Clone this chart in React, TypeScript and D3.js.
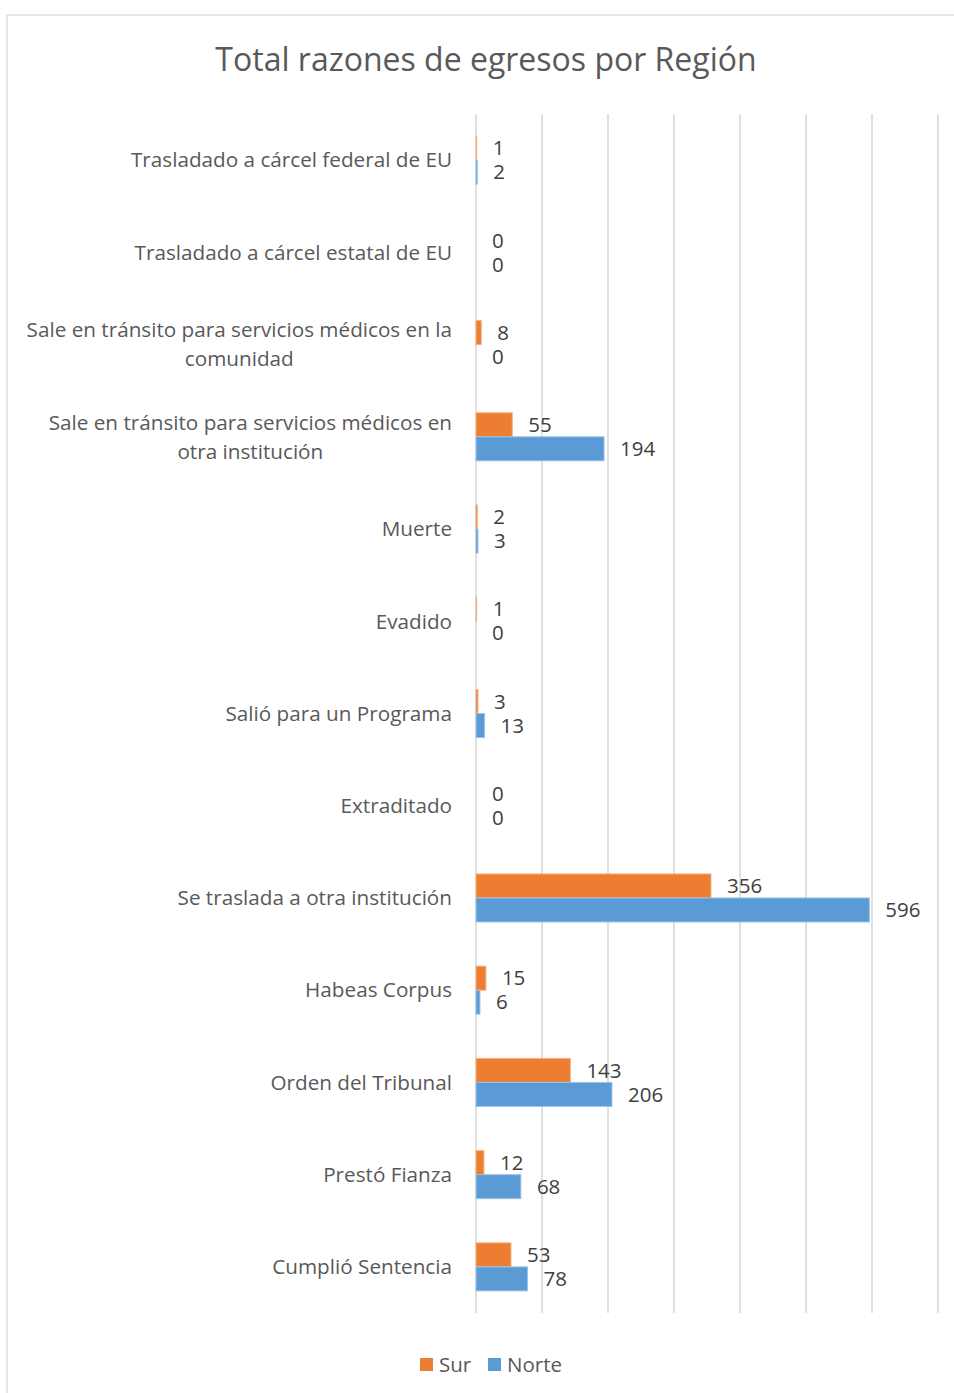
import React from "react";
import * as d3 from "d3";

const categories = [
  "Trasladado a cárcel federal de EU",
  "Trasladado a cárcel estatal de EU",
  "Sale en tránsito para servicios médicos en la\ncomunidad",
  "Sale en tránsito para servicios médicos en\notra institución",
  "Muerte",
  "Evadido",
  "Salió para un Programa",
  "Extraditado",
  "Se traslada a otra institución",
  "Habeas Corpus",
  "Orden del Tribunal",
  "Prestó Fianza",
  "Cumplió Sentencia",
];
const sur = [1, 0, 8, 55, 2, 1, 3, 0, 356, 15, 143, 12, 53];
const norte = [2, 0, 0, 194, 3, 0, 13, 0, 596, 6, 206, 68, 78];
const seriesNames = ["Sur", "Norte"];
const seriesColors = ["#ED7D31", "#5B9BD5"];
const seriesStrokes = ["#F4B183", "#9DC3E6"];
const ticks = [0, 100, 200, 300, 400, 500, 600, 700];

const W = 954;
const H = 1393;
const FONT = "'Open Sans', 'Noto Sans', sans-serif";
const TXT = "#595959";
const CAT_FS = 20.7;

export default function App() {
  const x = d3.scaleLinear().domain([0, 700]).range([476, 938]);
  const y = d3.scaleBand<string>().domain(categories).range([114, 1313]).padding(0);
  const inner = d3
    .scaleBand<string>()
    .domain(seriesNames)
    .range([0, y.step()])
    .paddingInner(0)
    .paddingOuter(0.92);
  const values = [sur, norte];

  return (
    <svg
      width={W}
      height={H}
      style={{ position: "absolute", left: 0, top: 0, background: "#fff" }}
      fontFamily={FONT}
    >
      <rect x={7} y={15} width={W} height={H} fill="#fff" stroke="#d9d9d9" strokeWidth={1.3} />
      <text x={486} y={71} textAnchor="middle" fontSize={32} fill={TXT}>
        Total razones de egresos por Región
      </text>
      {ticks.map((t) => (
        <line
          key={t}
          x1={x(t)}
          x2={x(t)}
          y1={114}
          y2={1313}
          stroke="#d9d9d9"
          strokeWidth={1.6}
        />
      ))}
      {categories.map((c, i) => {
        const cy = (y(c) as number) + y.step() / 2;
        const lines = c.split("\n");
        const lh = 29;
        return (
          <g key={c}>
            {seriesNames.map((s, si) => {
              const v = values[si][i];
              const by = (y(c) as number) + (inner(s) as number);
              const bw = inner.bandwidth();
              return (
                <g key={s}>
                  {v > 0 && (
                    <rect
                      x={x(0)}
                      y={by}
                      width={x(v) - x(0)}
                      height={bw}
                      fill={seriesColors[si]}
                      stroke={seriesStrokes[si]}
                      strokeWidth={1}
                    />
                  )}
                  <text
                    x={x(v) + 16}
                    y={by + bw / 2}
                    dy="0.35em"
                    fontSize={20.5}
                    fill="#404040"
                  >
                    {v}
                  </text>
                </g>
              );
            })}
            {lines.length === 1 ? (
              <text x={452} y={cy} dy="0.35em" textAnchor="end" fontSize={CAT_FS} fill={TXT}>
                {c}
              </text>
            ) : (
              <MultiLine lines={lines} right={452} cy={cy} lh={lh} />
            )}
          </g>
        );
      })}
      {seriesNames.map((s, si) => {
        const lx = si === 0 ? 420 : 488;
        return (
          <g key={s}>
            <rect x={lx} y={1358} width={13} height={13} fill={seriesColors[si]} />
            <text x={lx + 19} y={1365} dy="0.35em" fontSize={20.5} fill={TXT}>
              {s}
            </text>
          </g>
        );
      })}
    </svg>
  );
}

function MultiLine({ lines, right, cy, lh }: { lines: string[]; right: number; cy: number; lh: number }) {
  const ref = React.useRef<SVGGElement>(null);
  const [cx, setCx] = React.useState(right - 200);
  React.useLayoutEffect(() => {
    if (!ref.current) return;
    const texts = Array.from(ref.current.querySelectorAll("text")) as SVGTextElement[];
    const maxW = d3.max(texts, (t) => t.getComputedTextLength()) || 400;
    setCx(right - maxW / 2);
  }, [right]);
  const top = cy - ((lines.length - 1) * lh) / 2;
  return (
    <g ref={ref}>
      {lines.map((l, k) => (
        <text key={k} x={cx} y={top + k * lh} dy="0.35em" textAnchor="middle" fontSize={CAT_FS} fill={TXT}>
          {l}
        </text>
      ))}
    </g>
  );
}
